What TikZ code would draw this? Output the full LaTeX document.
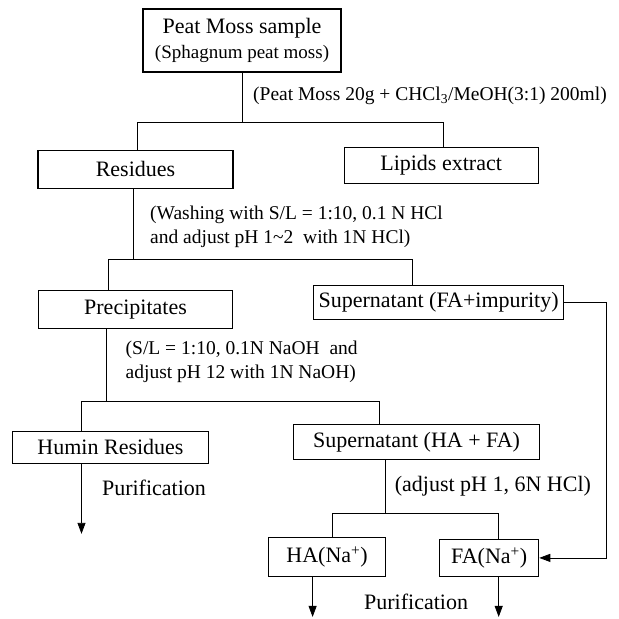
\documentclass[tikz,border=0pt]{standalone}
\usepackage{fontspec}
\setmainfont{Liberation Serif}
\usetikzlibrary{positioning,arrows.meta}

\begin{document}
\begin{tikzpicture}[x=1pt,y=1pt,
	proc/.style={draw,line width=1.1pt,inner sep=0pt,font=\fontsize{22}{24}\selectfont},
	note/.style={inner sep=0pt,align=left,font=\fontsize{19.5}{24}\selectfont},
	link/.style={line width=0.8pt},
	arr/.style={line width=0.8pt,-{Triangle[length=11pt,width=8pt]}}]
	\useasboundingbox (0,0) rectangle (619,-619);

	\node[proc,minimum width=198pt,minimum height=63pt,align=center] (peat) at (242,-40.5) {Peat Moss sample\\[1pt]{\fontsize{19}{21}\selectfont (Sphagnum peat moss)}};
	\node[proc,minimum width=195pt,minimum height=38pt,below=77pt of peat,xshift=-106.5pt] (res) {Residues};
	\node[proc,minimum width=194pt,minimum height=36pt,right=110pt of res,yshift=4pt] (lip) {Lipids extract};
	\node[proc,minimum width=194pt,minimum height=38pt,below=101pt of res] (prec) {Precipitates};
	\node[proc,minimum width=250pt,minimum height=34pt,right=80pt of prec,yshift=7pt] (supfa) {Supernatant (FA+impurity)};
	\node[proc,minimum width=196pt,minimum height=32pt,below=102pt of prec,xshift=-25pt] (humin) {Humin Residues};
	\node[proc,minimum width=246pt,minimum height=35pt,right=84pt of humin,yshift=5.5pt] (supha) {Supernatant (HA + FA)};
	\node[proc,minimum width=117pt,minimum height=39pt,below=77pt of supha,xshift=-89.5pt] (ha) {HA(Na\textsuperscript{+})};
	\node[proc,minimum width=99pt,minimum height=37pt,right=53pt of ha,yshift=-1pt] (fa) {FA(Na\textsuperscript{+})};

	% split points
	\coordinate (s1) at ([yshift=-50pt]peat.south);
	\coordinate (s2) at ([xshift=-2.5pt,yshift=-71pt]res.south);
	\coordinate (s3) at ([xshift=-29pt,yshift=-73pt]prec.south);
	\coordinate (s4) at ([xshift=-31pt,yshift=-54pt]supha.south);
	\coordinate (e1) at ([xshift=-29pt,yshift=-70pt]humin.south);
	\coordinate (e2) at ([xshift=-14.5pt,yshift=-40pt]ha.south);
	\coordinate (e3) at ([xshift=9.5pt,yshift=-40pt]fa.south);

	\draw[link] (peat) -- (s1);
	\draw[link] ([xshift=1.5pt]res.north) |- (s1) -| ([xshift=2pt]lip.north);
	\draw[link] (s2 |- res.south) -- (s2);
	\draw[link] ([xshift=-27pt]prec.north) |- (s2) -| ([xshift=-26pt]supfa.north);
	\draw[link] (s3 |- prec.south) -- (s3);
	\draw[link] ([xshift=-29pt]humin.north) |- (s3) -| ([xshift=-37pt]supha.north);
	\draw[link] (s4 |- supha.south) -- (s4);
	\draw[link] ([xshift=5.5pt]ha.north) |- (s4) -| ([xshift=9.5pt]fa.north);

	\draw[arr] (supfa.east) -- ++(42pt,0) |- (fa.east);
	\draw[arr] (e1 |- humin.south) -- (e1);
	\draw[arr] (e2 |- ha.south) -- (e2);
	\draw[arr] (e3 |- fa.south) -- (e3);

	% conditions
	\node[note,anchor=base west] (c1) at ([xshift=11pt,yshift=22pt]s1) {(Peat Moss 20g + CHCl\textsubscript{3}/MeOH(3:1) 200ml)};
	\node[note,anchor=north west] (c2) at ([xshift=17pt,yshift=54pt]s2) {(Washing with S/L = 1:10, 0.1 N HCl\\and adjust pH 1\textasciitilde2\ \ with 1N HCl)};
	\node[note,anchor=north west] (c3) at ([xshift=19pt,yshift=61pt]s3) {(S/L = 1:10, 0.1N NaOH\ \ and\\adjust pH 12 with 1N NaOH)};
	\node[note,anchor=base west,font=\fontsize{22}{24}\selectfont] (c4) at ([xshift=9pt,yshift=22pt]s4) {(adjust pH 1, 6N HCl)};
	\node[proc,draw=none,anchor=base west] (p1) at ([xshift=20pt,yshift=38pt]e1) {Purification};
	\node[proc,draw=none,anchor=base west] (p2) at ([xshift=51pt,yshift=7pt]e2) {Purification};
\end{tikzpicture}
\end{document}
